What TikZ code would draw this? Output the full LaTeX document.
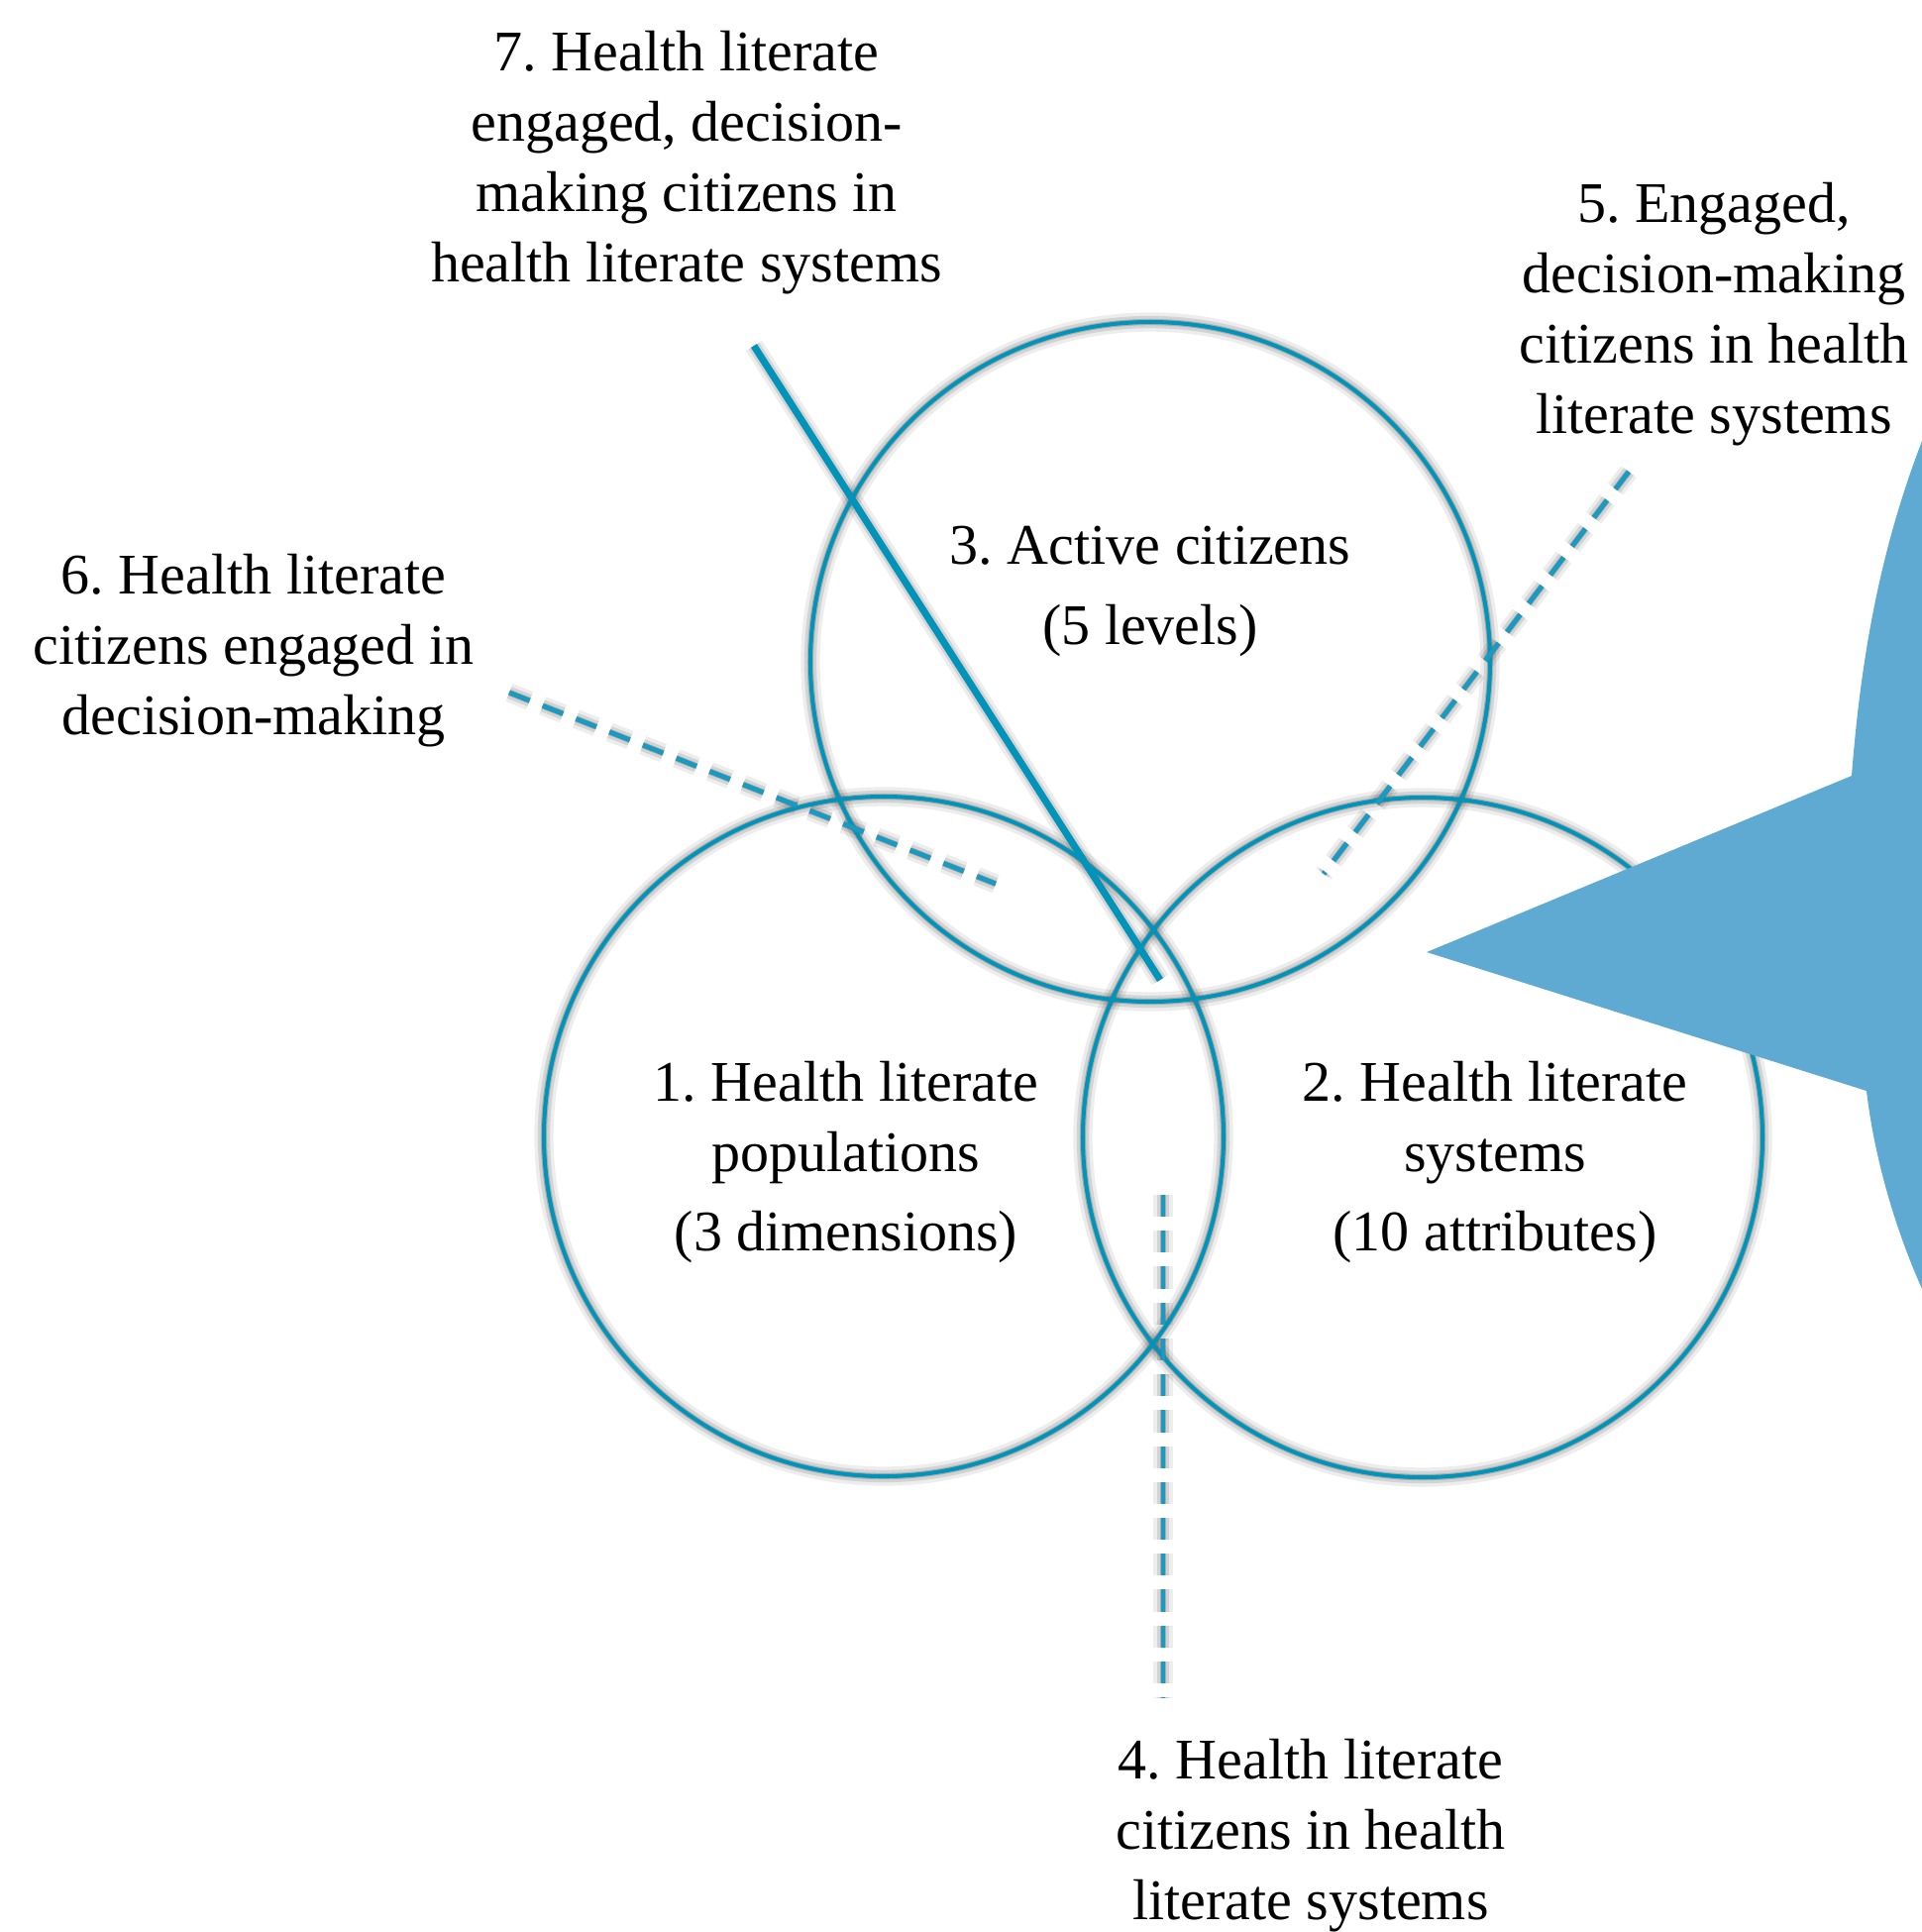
\documentclass[tikz,border=0pt]{standalone}
\usepackage{fontspec}
\setmainfont{Liberation Serif}
\usepackage{tikz}
\usetikzlibrary{positioning}
\definecolor{hlring}{HTML}{0094BA}
\definecolor{hldash}{HTML}{1A9AC0}
\definecolor{hlstar}{HTML}{5EAAD2}
\frenchspacing

\begin{document}
\begin{tikzpicture}[
  x=0.01cm, y=-0.01cm,
  ring/.style={draw=hlring, line width=1.15pt},
  label/.style={align=center, font=\fontsize{16.5}{20.2}\selectfont, inner sep=0pt},
  leader/.style={hldash, line width=1.4pt, dash pattern=on 6.3pt off 4pt},
  pointer/.style={hlring, line width=2pt},
  shade/.style={black, shift={(8,10)}}
]
\useasboundingbox (0,0) rectangle (1940,1950);
\clip (0,0) rectangle (1940,1950);

% Circle centres and leader ends
\coordinate (pop) at (892,1147);
\coordinate (sys) at (1436,1148);
\coordinate (act) at (1161,668);
\coordinate (p7a) at (761,349);
\coordinate (p7b) at (1171,989);
\coordinate (p5a) at (1644,476);
\coordinate (p5b) at (1336,882);
\coordinate (p6a) at (514,699);
\coordinate (p6b) at (1005,892);
\coordinate (p4a) at (1174,1206);
\coordinate (p4b) at (1174,1714);

% Soft shadows
\foreach \w/\o in {5.5pt/0.07, 3.5pt/0.11, 1.8pt/0.18} {
  \draw[shade, line width=\w, opacity=\o] (act) circle (343);
  \draw[shade, line width=\w, opacity=\o] (pop) circle (343);
  \draw[shade, line width=\w, opacity=\o] (sys) circle (343);
  \draw[shade, line width=\w, opacity=\o] (p7a) -- (p7b);
  \draw[shade, line width=\w, opacity=\o, dash pattern=on 6.3pt off 4pt] (p5a) -- (p5b);
  \draw[shade, line width=\w, opacity=\o, dash pattern=on 6.3pt off 4pt] (p6a) -- (p6b);
  \draw[shade, line width=\w, opacity=\o, dash pattern=on 6.3pt off 4pt] (p4a) -- (p4b);
}

% Circles
\draw[ring] (act) circle (343);
\draw[ring] (pop) circle (343);
\draw[ring] (sys) circle (343);

% Leaders
\draw[pointer] (p7a) -- (p7b);
\draw[leader] (p5a) -- (p5b);
\draw[leader] (p6a) -- (p6b);
\draw[leader] (p4a) -- (p4b);

% Star on the right edge
\fill[hlstar] (1440,961) -- (1869,783)
  .. controls (1880,640) and (1905,530) .. (1948,425)
  -- (2000,425) -- (2000,1330) -- (1948,1318)
  .. controls (1915,1250) and (1892,1170) .. (1884,1101) -- cycle;

% Circle texts
\node[label] (t3) at (1161,597) {3. Active citizens\\[3pt](5 levels)};
\node[label] (t1) at (854,1173) {1. Health literate\\populations\\[2.3pt](3 dimensions)};
\node[label] (t2) at (1509,1173) {2. Health literate\\systems\\[2.3pt](10 attributes)};

% Outer labels
\node[label] (l7) at (693,164) {7. Health literate\\engaged, decision-\\making citizens in\\health literate systems};
\node[label] (l5) at (1730,317) {5. Engaged,\\decision-making\\citizens in health\\literate systems};
\node[label] (l6) at (256,657) {6. Health literate\\citizens engaged in\\decision-making};
\node[label] (l4) at (1323,1853) {4. Health literate\\citizens in health\\literate systems};

\end{tikzpicture}
\end{document}
